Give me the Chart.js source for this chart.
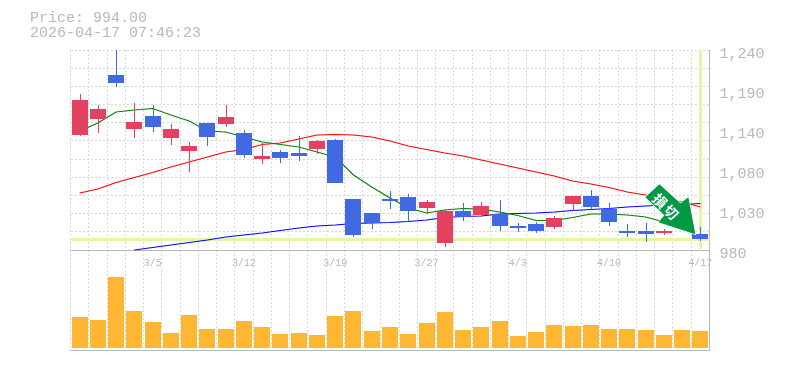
<!DOCTYPE html>
<html>
<head>
<meta charset="utf-8">
<script src="https://cdn.jsdelivr.net/npm/chart.js@4/dist/chart.umd.min.js"></script>
<style>
  html, body { margin: 0; padding: 0; background: #fff; }
  canvas { display: block; }
</style>
</head>
<body>
<canvas id="priceChart" width="785" height="370"></canvas>
<script>
const dates = ['2/27','3/2','3/3','3/4','3/5','3/6','3/9','3/10','3/11','3/12','3/13','3/16','3/17','3/18','3/19','3/23','3/24','3/25','3/26','3/27','3/30','3/31','4/1','4/2','4/3','4/6','4/7','4/8','4/9','4/10','4/13','4/14','4/15','4/16','4/17'];
const shownDates = ['3/5','3/12','3/19','3/27','4/3','4/10','4/17'];

const opens  = [1129.5,1150.3,1207.5,1137.3,1154.2,1125.6,1108.7,1145.1,1143.8,1132.1,1098.3,1107.4,1106.1,1111.3,1123,1046.3,1028.1,1046.3,1048.9,1034.6,989.1,1030.7,1025.5,1026.8,1011.2,1013.8,1009.9,1039.8,1050.2,1033.3,1004.7,1004.7,1002.1,1025.5,1000.8];
const closes = [1175,1163.3,1197.1,1146.4,1139.9,1137.3,1115.2,1126.9,1152.9,1103.5,1102.2,1099.6,1102.2,1121.7,1067.1,999.5,1015.1,1043.7,1030.7,1042.4,1030.7,1022.9,1037.2,1011.2,1008.6,1004.7,1021.6,1050.2,1035.9,1016.4,1002.1,1000.8,1004.7,1016.4,994];
const highs  = [1182.8,1168.5,1250,1171.1,1168.5,1143.8,1120.4,1145.1,1168.5,1136,1119.1,1110,1128.2,1123,1124.3,1046.3,1028.1,1056.7,1052.8,1045,1033.3,1041.1,1042.4,1045,1015.1,1016.4,1024.2,1050.2,1058,1041.1,1013.8,1015.1,1007,1029.4,1009.9];
const lows   = [1128.2,1132.1,1191.9,1125.6,1133.4,1116.5,1081.4,1115.2,1139.9,1099.6,1091.8,1093.1,1095.7,1104.8,1067.1,996.9,1007.3,1033.3,1016.4,1026.8,983.9,1017.7,1022.9,1004.7,1003.4,1002.1,1007.3,1030.7,1032,1011.2,996.9,990.4,999.5,1011.2,991.7];
const volumes = [31,28,71,37,26,15,33,19,19,27,21,14,15,13,32,37,17,21,14,25,36,18,21,27,12,16,23,22,23,19,19,18,13,18,17];

const maShort = [1134.7,1145.1,1159.4,1162,1164,1155.5,1147.7,1134.7,1133.4,1126.9,1120.4,1117.2,1113.9,1107.4,1100.9,1077.5,1061.9,1047.6,1034.6,1028.1,1032,1034,1033.3,1029.4,1024.9,1018.4,1018.4,1022.3,1026.8,1026.8,1025.5,1022.9,1016.4,1009.9,996.9];
const maMid   = [1054.1,1059.3,1067.8,1074.3,1080.8,1087.9,1094.4,1100.9,1107.4,1110.7,1117.2,1119.1,1124.3,1129.5,1130.2,1129.5,1126.9,1121.7,1115.2,1110.7,1106.1,1102.2,1097,1091.8,1086.6,1081.4,1076.2,1069.7,1065.8,1061.3,1055.4,1051.5,1047.6,1042.4,1035.9];
const maLong  = [null,null,null,980,983.3,986.5,989.8,993,996.9,999.5,1002.1,1005.4,1008.6,1011.2,1012.5,1014.5,1015.1,1015.8,1017.1,1019,1022.3,1023.6,1024.2,1026.8,1027.5,1028.1,1029.4,1031.4,1032.7,1034,1035.9,1037.2,1038.5,1039.2,1040.5];

const priceTicks = [1240,1188,1136,1084,1032,980];
const priceTickLabels = ['1,240','1,190','1,140','1,080','1,030','980'];
const gridPrices = [1240,1216.4,1192.7,1169.1,1145.5,1121.8,1098.2,1074.5,1050.9,1027.3,1003.6,980];

const headerLines = ['Price: 994.00','2026-04-17 07:46:23'];
const arrowText = '損切';

const UP = '#e2415f';
const DOWN = '#4169e1';
const GREY = '#b9b9b9';
const BAND = '#e4f5a8';
const GRID = '#d8d8d8';
const barColors = opens.map((o, i) => (closes[i] >= o ? UP : DOWN));

// pixel-snap the bars so they stay crisp like the original
const snapBars = {
  id: 'snapBars',
  afterDatasetsUpdate(chart) {
    chart.data.datasets.forEach((ds, i) => {
      if (ds.type === 'line') return;
      chart.getDatasetMeta(i).data.forEach(el => {
        el.x = Math.round(el.x) + (ds.snapX || 0);
        el.y = Math.round(el.y);
        el.base = Math.round(el.base);
      });
    });
  },
};

// highlight of the latest price and date
const lastBand = {
  id: 'lastBand',
  beforeDatasetsDraw(chart) {
    const { ctx, chartArea, scales } = chart;
    const last = dates.length - 1;
    const py = Math.round(scales.y.getPixelForValue(closes[last]));
    const px = Math.round(scales.x.getPixelForValue(last));
    ctx.save();
    ctx.fillStyle = BAND;
    ctx.fillRect(chartArea.left, py - 1, chartArea.width, 3);
    ctx.fillRect(px - 1, chartArea.top, 3, scales.y.getPixelForValue(980) - chartArea.top - 1);
    ctx.restore();
  },
};

// header text and the green sell arrow
const overlay = {
  id: 'overlay',
  afterDatasetsDraw(chart) {
    const { ctx, scales } = chart;
    const last = dates.length - 1;
    const tx = scales.x.getPixelForValue(last) - 5;
    const ty = scales.y.getPixelForValue(closes[last]) - 5;
    const shape = [[-36,-50],[-15,-31],[-7,-37],[0,0],[-37,-12],[-31,-19],[-50,-37]];
    ctx.save();
    ctx.beginPath();
    shape.forEach((p, i) => (i ? ctx.lineTo(tx + p[0], ty + p[1]) : ctx.moveTo(tx + p[0], ty + p[1])));
    ctx.closePath();
    ctx.fillStyle = '#009944';
    ctx.strokeStyle = '#fff';
    ctx.lineWidth = 1.5;
    ctx.stroke();
    ctx.fill();
    ctx.translate(tx - 29, ty - 27);
    ctx.rotate(Math.PI / 4);
    ctx.fillStyle = '#fff';
    ctx.font = 'bold 14px "Noto Sans CJK JP"';
    ctx.textAlign = 'center';
    ctx.textBaseline = 'middle';
    ctx.letterSpacing = '2px';
    ctx.fillText(arrowText, 0, 0);
    ctx.restore();

    ctx.save();
    ctx.fillStyle = GREY;
    ctx.font = '15px "Liberation Mono"';
    ctx.textBaseline = 'middle';
    headerLines.forEach((t, i) => ctx.fillText(t, 30, 18 + i * 15));
    ctx.restore();
  },
};

new Chart(document.getElementById('priceChart'), {
  type: 'bar',
  data: {
    labels: dates,
    datasets: [
      { label: 'Body', data: opens.map((o, i) => [o, closes[i]]), backgroundColor: barColors, barThickness: 16, grouped: false, order: 0, inflateAmount: 0 },
      { label: 'Wick', data: lows.map((l, i) => [l, highs[i]]), backgroundColor: barColors, barThickness: 1, grouped: false, order: 1, snapX: 0.5, inflateAmount: 0 },
      { type: 'line', label: 'MA short', data: maShort, borderColor: '#008000', borderWidth: 1.1, pointRadius: 0, order: 2 },
      { type: 'line', label: 'MA mid', data: maMid, borderColor: '#ff0000', borderWidth: 1.1, pointRadius: 0, order: 3 },
      { type: 'line', label: 'MA long', data: maLong, borderColor: '#0000ff', borderWidth: 1.1, pointRadius: 0, order: 4 },
      { label: 'Volume', data: volumes, yAxisID: 'vol', backgroundColor: '#ffb733', barThickness: 16, grouped: false, order: 5, inflateAmount: 0 },
    ],
  },
  options: {
    responsive: false,
    animation: false,
    events: [],
    layout: { padding: { left: 70.5, top: 50, right: 0, bottom: 20 } },
    plugins: { legend: { display: false }, tooltip: { enabled: false }, title: { display: false } },
    scales: {
      x: {
        axis: 'x',
        position: { y: 980 },
        offset: true,
        grid: { offset: true, color: GRID, drawTicks: false },
        border: { color: GREY, dash: [2, 2], display: true },
        ticks: {
          autoSkip: false, maxRotation: 0, padding: 7, color: GREY,
          font: { family: '"Liberation Mono"', size: 10 },
          callback(v) { const d = this.getLabelForValue(v); return shownDates.includes(d) ? d : ''; },
        },
      },
      xb: {
        axis: 'x',
        type: 'category',
        position: 'bottom',
        offset: true,
        grid: { display: false, drawTicks: false },
        border: { color: GREY },
        ticks: { display: false },
      },
      y: {
        position: 'right',
        min: 850, max: 1240,
        afterBuildTicks(s) { s.ticks = priceTicks.map(value => ({ value })); },
        afterFit(s) { s.width = 75.5; },
        grid: { display: false, drawTicks: false },
        border: { color: GREY },
        ticks: {
          padding: 10, color: GREY, labelOffset: 4, autoSkip: false,
          font: { family: '"Liberation Mono"', size: 15 },
          callback(v) { return priceTickLabels[priceTicks.indexOf(v)]; },
        },
      },
      yGrid: {
        axis: 'y',
        position: 'left',
        min: 850, max: 1240,
        afterBuildTicks(s) { s.ticks = gridPrices.map(value => ({ value })); },
        afterFit(s) { s.width = 0; },
        grid: { color: GRID, drawTicks: false },
        border: { display: false, dash: [2, 2] },
        ticks: { display: false },
      },
      vol: { axis: 'y', display: false, min: -2, max: 298 },
    },
  },
  plugins: [snapBars, lastBand, overlay],
});
</script>
</body>
</html>
